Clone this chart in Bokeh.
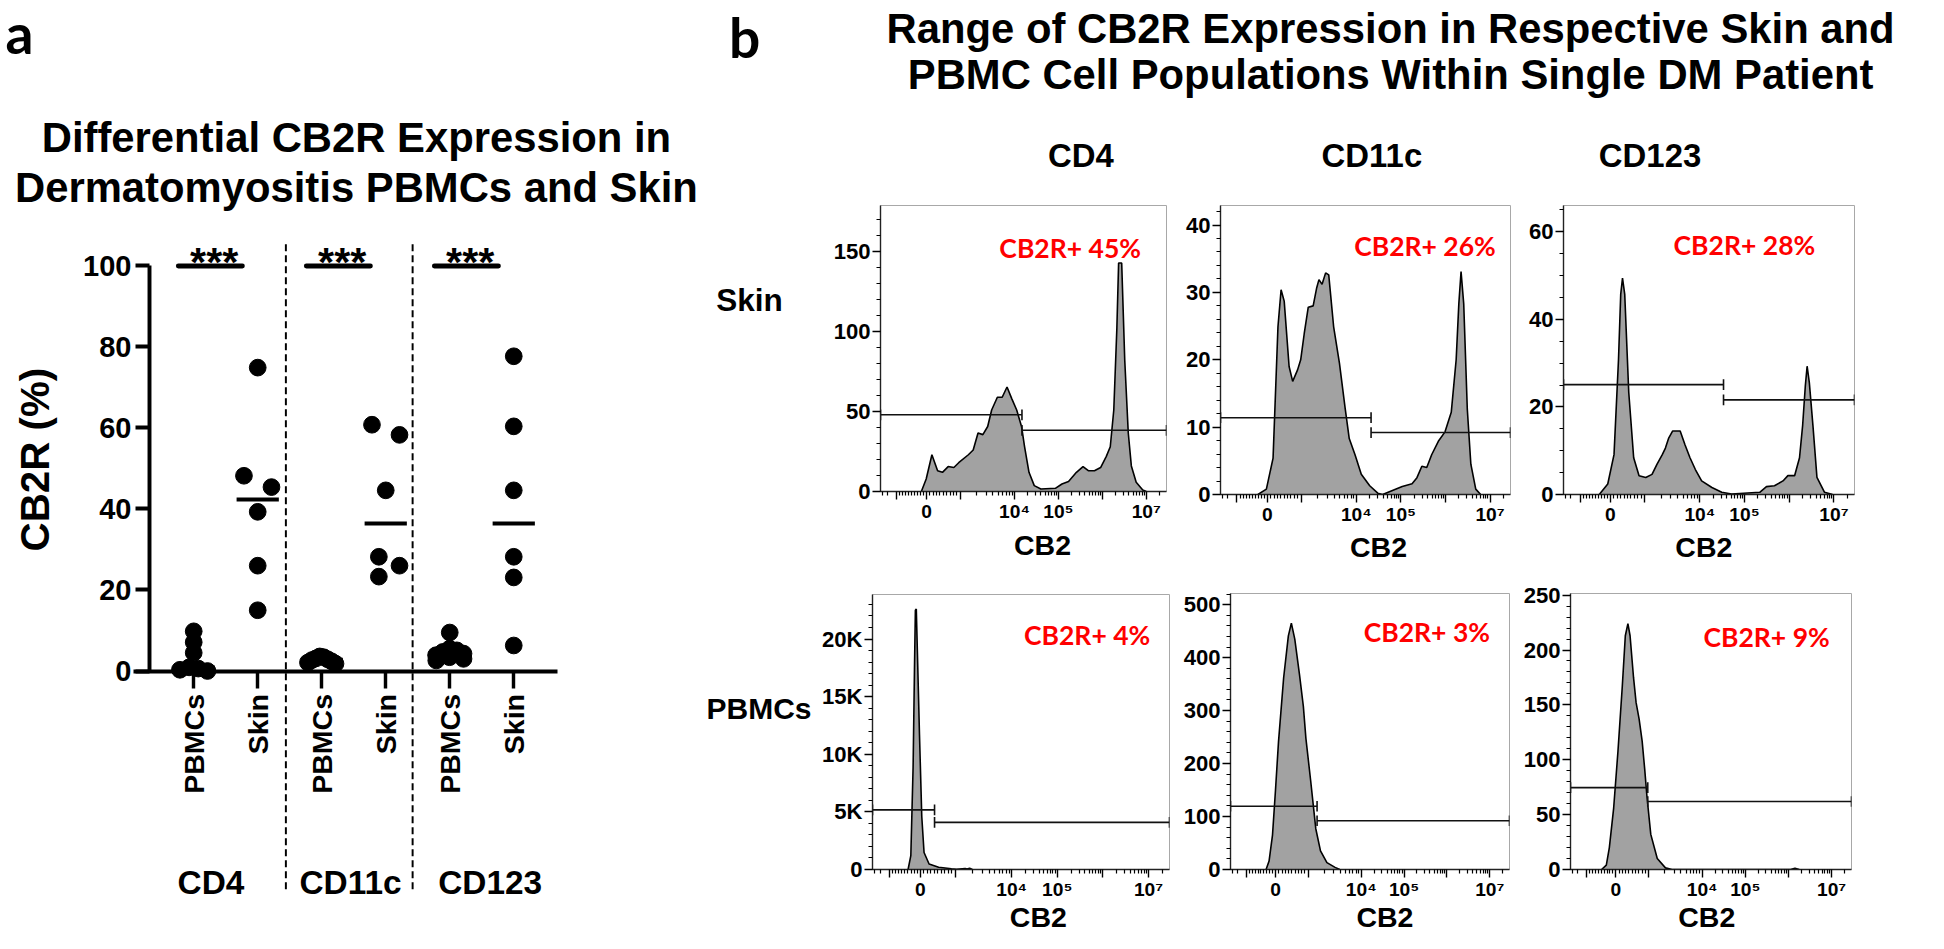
import numpy as np
from bokeh.plotting import figure
from bokeh.layouts import row, column
from bokeh.models import LinearAxis, FixedTicker, SingleIntervalTicker, Range1d
from bokeh.core.properties import value
from bokeh.embed import file_html
from bokeh.resources import INLINE

# ---------------------------------------------------------------- data
# Panel a : CB2R (%) per sample
group_names = ["CD4", "CD11c", "CD123"]
tick_labels = ["PBMCs", "Skin", "PBMCs", "Skin", "PBMCs", "Skin"]
cd4_pbmc = [9.8, 7.1, 4.5, 0.9, 0.6, 0.3, 0.0]
cd4_skin = [74.9, 48.2, 45.4, 39.3, 26.0, 15.0]
cd11c_pbmc = [3.6, 3.4, 3.1, 2.9, 2.7, 2.4, 2.1, 1.8]
cd11c_skin = [60.8, 58.3, 44.6, 28.2, 26.0, 23.3]
cd123_pbmc = [9.5, 5.5, 5.1, 4.7, 4.3, 3.9, 3.4, 3.0, 2.6]
cd123_skin = [77.7, 60.4, 44.6, 28.2, 23.1, 6.3]
sig_labels = ["***", "***", "***"]
y_ticks_a = [0, 20, 40, 60, 80, 100]

# Panel b : CB2 histograms (display channel u, event count)
col_titles = ["CD4", "CD11c", "CD123"]
row_titles = ["Skin", "PBMCs"]
x_title = "CB2"
pos_labels = ["CB2R+ 45%", "CB2R+ 26%", "CB2R+ 28%", "CB2R+ 4%", "CB2R+ 3%", "CB2R+ 9%"]
x_major_ticks = [1.32, 2.0, 2.76, 4.0, 5.0, 6.0, 7.0]
x_major_labels = ["", "0", "", "10\u2074", "10\u2075", "", "10\u2077"]

cd4_skin_u = [1.88, 1.99, 2.12, 2.25, 2.36, 2.49, 2.62, 2.73, 2.95, 3.06, 3.17, 3.28, 3.39, 3.48, 3.61,
              3.72, 3.83, 3.94, 4.05, 4.16, 4.23, 4.33, 4.45, 4.60, 4.93, 5.08, 5.23, 5.41, 5.56, 5.68,
              5.82, 5.96, 6.09, 6.18, 6.26, 6.33, 6.37, 6.44, 6.51, 6.59, 6.66, 6.77, 6.92, 7.00]
cd4_skin_n = [0, 7.8, 23, 13, 12, 15.6, 15, 18, 23, 26, 36.6, 35.6, 40.7, 51, 59,
              59, 65.4, 58, 51, 40.7, 28, 12, 3.7, 1.6, 2, 4.7, 6.2, 12, 15.6, 13,
              13, 15, 22, 28, 51, 102, 143, 143, 82, 36.6, 16, 5.8, 1, 0]
cd11c_skin_u = [1.79, 1.98, 2.13, 2.24, 2.31, 2.38, 2.49, 2.57, 2.68, 2.75, 2.83, 2.92, 3.03, 3.11, 3.16,
                3.23, 3.31, 3.38, 3.49, 3.62, 3.75, 3.84, 3.97, 4.11, 4.30, 4.48, 4.59, 4.81, 5.03, 5.25,
                5.36, 5.47, 5.58, 5.69, 5.84, 5.99, 6.13, 6.24, 6.30, 6.35, 6.41, 6.49, 6.57, 6.68, 6.79]
cd11c_skin_n = [0, 0.8, 5.4, 24.9, 30.4, 28.7, 19, 16.8, 18.5, 20, 23.9, 27.8, 28, 30.7, 31.9,
                31.2, 32.9, 32.6, 24.9, 19.5, 12.7, 8.3, 5.9, 3, 1.3, 0.2, 0, 0.6, 1.2, 1.6,
                2.5, 4.2, 4.0, 5.9, 7.9, 9.3, 12.2, 20, 28.3, 33.1, 28.3, 12.7, 4.5, 0.8, 0]
cd123_skin_u = [1.75, 1.94, 2.08, 2.18, 2.23, 2.27, 2.32, 2.41, 2.52, 2.64, 2.79, 2.93, 3.04, 3.16, 3.23,
                3.30, 3.39, 3.56, 3.67, 3.78, 3.90, 4.04, 4.27, 4.49, 4.71, 5.34, 5.49, 5.67, 5.86, 5.97,
                6.12, 6.23, 6.30, 6.36, 6.40, 6.45, 6.53, 6.62, 6.79, 6.97]
cd123_skin_n = [0, 2.4, 9.1, 30.7, 45.7, 49.4, 45.7, 23.3, 8.4, 4.3, 3.9, 4.6, 6.9, 9.1, 10.6,
                12.8, 14.5, 14.5, 11.3, 8.4, 5.7, 3.1, 1.6, 0.5, 0.1, 0.5, 1.8, 2, 3.1, 4.3,
                4.3, 8.4, 15.8, 24.8, 29.3, 25.5, 15.8, 3.9, 0.5, 0]
cd4_pbmc_u = [1.73, 1.79, 1.84, 1.87, 1.89, 1.91, 1.98, 2.03, 2.08, 2.19, 2.40, 2.68, 2.79, 2.98, 3.02, 3.08, 3.14]
cd4_pbmc_n = [0, 1200, 8900, 17400, 22500, 22600, 11700, 4600, 1480, 480, 200, 60, 20, 90, 40, 100, 0]
cd11c_pbmc_u = [1.78, 1.85, 1.93, 2.0, 2.07, 2.19, 2.30, 2.37, 2.45, 2.56, 2.65, 2.71, 2.82, 2.94, 3.05, 3.20, 3.39, 3.50]
cd11c_pbmc_n = [0, 16, 65, 150, 241, 362, 441, 465, 435, 368, 308, 247, 168, 77, 35, 13, 4, 0]
cd123_pbmc_u = [1.67, 1.78, 1.85, 1.95, 2.05, 2.15, 2.22, 2.28, 2.33, 2.41, 2.47, 2.54, 2.61, 2.67, 2.72,
                2.81, 2.96, 3.15, 3.30, 6.05, 6.15, 6.25]
cd123_pbmc_n = [0, 4, 20, 56, 108, 167, 213, 224, 213, 175, 152, 137, 117, 91, 67,
                32, 10, 1.5, 0, 0, 1.2, 0]

# gates: split position, left-gate level, right-gate level
gate_split = [4.17, 4.33, 4.53, 2.31, 2.97, 2.74]
gate_left = [48, 11.4, 25.1, 5170, 119.5, 74.6]
gate_right = [38.3, 9.2, 21.6, 4090, 92, 62]
y_max = [179, 42.9, 66, 23864, 521, 251.5]
y_interval = [50, 10, 20, 5000, 100, 50]
y_minor = [5, 5, 4, 5, 5, 5]

# ---------------------------------------------------------------- layout helpers
S = 933 / 949.0


def X(v):
    return int(round(v * S))


def F(v):
    return f"{v * S:.1f}px"


ARIAL = "Liberation Sans"
CAL = "Lato"


def swarm(vals, ppu, dcoll, wmax):
    v = np.asarray(vals, float)
    ys = v * ppu
    n = len(v)
    xs = np.zeros(n)
    placed = []
    cands = [0.0]
    for k in range(1, 400):
        cands += [k * 0.5, -k * 0.5]
    for i in np.argsort(-v, kind="stable"):
        for cx in cands:
            if all((cx - xs[j]) ** 2 + (ys[i] - ys[j]) ** 2 >= dcoll ** 2 - 1e-9 for j in placed):
                xs[i] = cx
                break
        placed.append(i)
    parent = list(range(n))

    def find(a):
        while parent[a] != a:
            parent[a] = parent[parent[a]]
            a = parent[a]
        return a
    for i in range(n):
        for j in range(i + 1, n):
            if (xs[i] - xs[j]) ** 2 + (ys[i] - ys[j]) ** 2 < (dcoll * 1.08) ** 2:
                parent[find(i)] = find(j)
    comps = {}
    for i in range(n):
        comps.setdefault(find(i), []).append(i)
    for idx in comps.values():
        idx = np.array(idx)
        if len(idx) > 1:
            xs[idx] -= xs[idx].mean()
            m = np.abs(xs[idx]).max()
            if m > 0:
                xs[idx] *= wmax / m
    return xs


# ---------------------------------------------------------------- panel a
PX0, PXS = 196.5, 65.1      # x pixel of first category, pixels per category
PY0, PYS = 682.0, 4.12      # y pixel of 0 %, pixels per %


def pos_px(px):
    return 1 + (px - PX0) / PXS


def val_py(py):
    return (PY0 - py) / PYS


pa = figure(width=X(716), height=X(949), x_range=Range1d(pos_px(0), pos_px(716)),
            y_range=Range1d(val_py(949), val_py(0)), x_axis_type=None, y_axis_type=None,
            toolbar_location=None, output_backend="svg", outline_line_color=None,
            min_border_left=0, min_border_right=0, min_border_top=0, min_border_bottom=0)
pa.xgrid.visible = False
pa.ygrid.visible = False

ya = LinearAxis(fixed_location=pos_px(151.5), bounds=(0, 100), ticker=FixedTicker(ticks=y_ticks_a),
                axis_line_width=4 * S, major_tick_line_width=4 * S, major_tick_out=X(14), major_tick_in=0,
                minor_tick_out=0, minor_tick_in=0, major_label_standoff=4,
                major_label_text_font=ARIAL, major_label_text_font_style="bold",
                major_label_text_font_size=F(29.5), major_label_text_color="black")
pa.add_layout(ya, "left")
xa = LinearAxis(fixed_location=0, bounds=(pos_px(135), pos_px(567)),
                ticker=FixedTicker(ticks=list(range(1, len(tick_labels) + 1))),
                major_label_overrides={i + 1: t for i, t in enumerate(tick_labels)},
                major_label_orientation=np.pi / 2,
                axis_line_width=4 * S, major_tick_line_width=3.5 * S, major_tick_out=X(17), major_tick_in=0,
                minor_tick_out=0, minor_tick_in=0, major_label_standoff=6,
                major_label_text_font=ARIAL, major_label_text_font_style="bold",
                major_label_text_font_size=F(29), major_label_text_color="black")
pa.add_layout(xa, "below")

groups_vals = [cd4_pbmc, cd4_skin, cd11c_pbmc, cd11c_skin, cd123_pbmc, cd123_skin]
dx_all, dy_all, med_x0, med_x1, med_y = [], [], [], [], []
for gi, vals in enumerate(groups_vals):
    dcoll = 8 if gi % 2 == 0 else 20
    offs = swarm(vals, PYS, dcoll, 14)
    dx_all += list(gi + 1 + offs / PXS)
    dy_all += list(vals)
    med = float(np.median(vals))
    med_x0.append(gi + 1 - 0.33)
    med_x1.append(gi + 1 + 0.33)
    med_y.append(med)

pa.segment(x0=med_x0, y0=med_y, x1=med_x1, y1=med_y, line_color="black", line_width=4 * S)
pa.scatter(dx_all, dy_all, size=17 * S, marker="circle", fill_color="black", line_color="black")

# significance bars
pbmc_pos = np.array([1, 3, 5])
pa.segment(x0=pbmc_pos - 0.24, y0=[100] * 3, x1=pbmc_pos + 0.76, y1=[100] * 3,
           line_color="black", line_width=5 * S, line_cap="round")
pa.text(x=pbmc_pos + 0.32, y=[val_py(266)] * 3, text=sig_labels, text_font=value(ARIAL),
        text_font_style="bold", text_font_size=F(42), text_align="center", text_baseline="alphabetic")

# dashed separators
sep_x = [2.44, 4.42]
pa.segment(x0=sep_x, y0=[val_py(248)] * 2, x1=sep_x, y1=[val_py(908)] * 2,
           line_color="black", line_width=2 * S, line_dash="7 4")

# group labels
pa.text(x=[pos_px(214), pos_px(356), pos_px(498)], y=[val_py(897)] * 3, text=group_names,
        text_font=value(ARIAL), text_font_style="bold", text_font_size=F(34),
        text_align="center", text_baseline="alphabetic")
# y label
pa.text(x=[pos_px(36)], y=[val_py(467)], text=["CB2R (%)"], angle=np.pi / 2,
        text_font=value(ARIAL), text_font_style="bold", text_font_size=F(41),
        text_align="center", text_baseline="middle")
# title + panel letter
pa.text(x=[pos_px(362)] * 2, y=[val_py(139), val_py(190)],
        text=["Differential CB2R Expression in", "Dermatomyositis PBMCs and Skin"],
        text_font=value(ARIAL), text_font_style="bold", text_font_size=F(42.5),
        text_align="center", text_baseline="alphabetic")
pa.text(x=[pos_px(5)], y=[val_py(33)], text=["a"], text_font=value(CAL), text_font_style="bold",
        text_font_size=F(56), text_align="left", text_baseline="alphabetic")

# ---------------------------------------------------------------- panel b
U0, U1 = 0.95, 7.46


def x_minor():
    m = []
    for k in (2, 3):
        m.append(1.32 - 0.68 * np.log10(k))
    m += [1.32 + 0.068 * k for k in range(1, 10)]
    m += [2.0 + 0.076 * k for k in range(1, 10)]
    m += [2.76 + 1.24 * np.log10(k) for k in range(2, 10)]
    for d in (4, 5, 6):
        m += [d + np.log10(k) for k in range(2, 10)]
    m += [7 + np.log10(k) for k in (2, 3)]
    return [float(v) for v in m if U0 <= v <= U1]


def blank(x0, x1, h0, h1):
    p = figure(width=X(x1) - X(x0), height=X(h1) - X(h0),
               x_range=Range1d(x0, x1), y_range=Range1d(h1, h0),
               x_axis_type=None, y_axis_type=None, toolbar_location=None, output_backend="svg",
               outline_line_color=None, min_border_left=0, min_border_right=0,
               min_border_top=0, min_border_bottom=0)
    p.xgrid.visible = False
    p.ygrid.visible = False
    return p


def hist_cell(i, fig_box, split, frame_box, u, n, label_px, title_mid, yfmt=None):
    fl, fr, ft, fb = fig_box
    l, r, t, b = frame_box
    ymax = y_max[i]
    p = figure(width=X(fr) - X(fl), height=X(split) - X(ft), x_range=Range1d(U0, U1),
               y_range=Range1d(0, ymax), x_axis_type=None, y_axis_type=None,
               toolbar_location=None, output_backend="svg",
               outline_line_color="#a8a8a8", outline_line_width=1,
               min_border_left=X(l) - X(fl), min_border_right=X(fr) - X(r),
               min_border_top=X(t) - X(ft), min_border_bottom=X(split) - X(b))
    p.xgrid.visible = False
    p.ygrid.visible = False
    yax = LinearAxis(ticker=SingleIntervalTicker(interval=y_interval[i], num_minor_ticks=y_minor[i]),
                     axis_line_width=1.4, axis_line_color="#222222",
                     major_tick_out=X(8), major_tick_in=0, minor_tick_out=X(4), minor_tick_in=0,
                     major_tick_line_width=1.4, minor_tick_line_width=1.2,
                     major_label_standoff=2, major_label_text_font=ARIAL,
                     major_label_text_font_style="bold", major_label_text_font_size=F(22.5),
                     major_label_text_color="black")
    if yfmt:
        yax.major_label_overrides = yfmt
    p.add_layout(yax, "left")
    xax = LinearAxis(ticker=FixedTicker(ticks=x_major_ticks, minor_ticks=x_minor()),
                     major_label_overrides=dict(zip(x_major_ticks, x_major_labels)),
                     axis_line_width=1.4, axis_line_color="#222222",
                     major_tick_out=X(8), major_tick_in=0, minor_tick_out=X(4), minor_tick_in=0,
                     major_tick_line_width=1.4, minor_tick_line_width=1.2,
                     major_label_standoff=1, major_label_text_font=ARIAL,
                     major_label_text_font_style="bold", major_label_text_font_size=F(19.5),
                     major_label_text_color="black")
    p.add_layout(xax, "below")

    p.varea(x=u, y1=[0] * len(u), y2=n, fill_color="#a2a2a2")
    p.line(u, n, line_color="black", line_width=1.6)

    sp, gl, gr = gate_split[i], gate_left[i], gate_right[i]
    cap = 5.5 * ymax / (b - t)
    p.segment(x0=[U0, sp], y0=[gl, gr], x1=[sp, U1], y1=[gl, gr], line_color="#111111", line_width=1.6)
    p.segment(x0=[U0, sp, sp, U1], y0=[gl - cap, gl - cap, gr - cap, gr - cap],
              x1=[U0, sp, sp, U1], y1=[gl + cap, gl + cap, gr + cap, gr + cap],
              line_color="#111111", line_width=1.6)

    lx = U0 + (label_px[0] - l) / (r - l) * (U1 - U0)
    ly = ymax * (b - label_px[1]) / (b - t)
    p.text(x=[lx], y=[ly], text=[pos_labels[i]], text_color="#ff0000", text_font=value(CAL),
           text_font_style="bold", text_font_size=F(27), text_align="center", text_baseline="alphabetic")

    strip = blank(fl, fr, split, fb)
    strip.text(x=[(l + r) / 2], y=[title_mid], text=[x_title], text_font=value(ARIAL),
               text_font_style="bold", text_font_size=F(29), text_align="center",
               text_baseline="middle")
    return column(p, strip)


header = blank(716, 1944, 0, 190)
header.text(x=[741], y=[37], text=["b"], text_font=value(CAL), text_font_style="bold",
            text_font_size=F(56), text_align="left", text_baseline="alphabetic")
header.text(x=[1414, 1414], y=[28, 75],
            text=["Range of CB2R Expression in Respective Skin and",
                  "PBMC Cell Populations Within Single DM Patient"],
            text_font=value(ARIAL), text_font_style="bold", text_font_size=F(42.5),
            text_align="center", text_baseline="alphabetic")
header.text(x=[1099, 1395, 1678], y=[157] * 3, text=col_titles, text_font=value(ARIAL),
            text_font_style="bold", text_font_size=F(33.5), text_align="center", text_baseline="alphabetic")

rl1 = blank(716, 832, 190, 575)
rl1.text(x=[728], y=[305], text=[row_titles[0]], text_font=value(ARIAL), text_font_style="bold",
         text_font_size=F(32), text_align="left", text_baseline="alphabetic")
rl2 = blank(716, 832, 575, 949)
rl2.text(x=[718], y=[720], text=[row_titles[1]], text_font=value(ARIAL), text_font_style="bold",
         text_font_size=F(30.5), text_align="left", text_baseline="alphabetic")

k_fmt = {v: (f"{v // 1000}K" if v else "0") for v in range(0, 25001, 5000)}

R1 = (190, 575, 536)
R2 = (575, 949, 917)
h1 = hist_cell(0, (832, 1200, R1[0], R1[1]), R1[2], (895, 1186, 209, 499), cd4_skin_u, cd4_skin_n, (1088, 252), 554)
h2 = hist_cell(1, (1200, 1546, R1[0], R1[1]), R1[2], (1241, 1536, 209, 504), cd11c_skin_u, cd11c_skin_n, (1449, 250), 556)
h3 = hist_cell(2, (1546, 1944, R1[0], R1[1]), R1[2], (1590, 1886, 209, 504), cd123_skin_u, cd123_skin_n, (1774, 249), 556)
h4 = hist_cell(3, (832, 1200, R2[0], R2[1]), R2[2], (886, 1189, 604, 884), cd4_pbmc_u, cd4_pbmc_n, (1105, 645), 932, k_fmt)
h5 = hist_cell(4, (1200, 1546, R2[0], R2[1]), R2[2], (1248, 1535, 603, 889), cd11c_pbmc_u, cd11c_pbmc_n, (1450, 643), 932)
h6 = hist_cell(5, (1546, 1944, R2[0], R2[1]), R2[2], (1595, 1883, 603, 890), cd123_pbmc_u, cd123_pbmc_n, (1796, 648), 932)

right = column(header, row(rl1, h1, h2, h3), row(rl2, h4, h5, h6))
layout = row(pa, right)

open("out.html", "w").write(file_html(layout, INLINE))
